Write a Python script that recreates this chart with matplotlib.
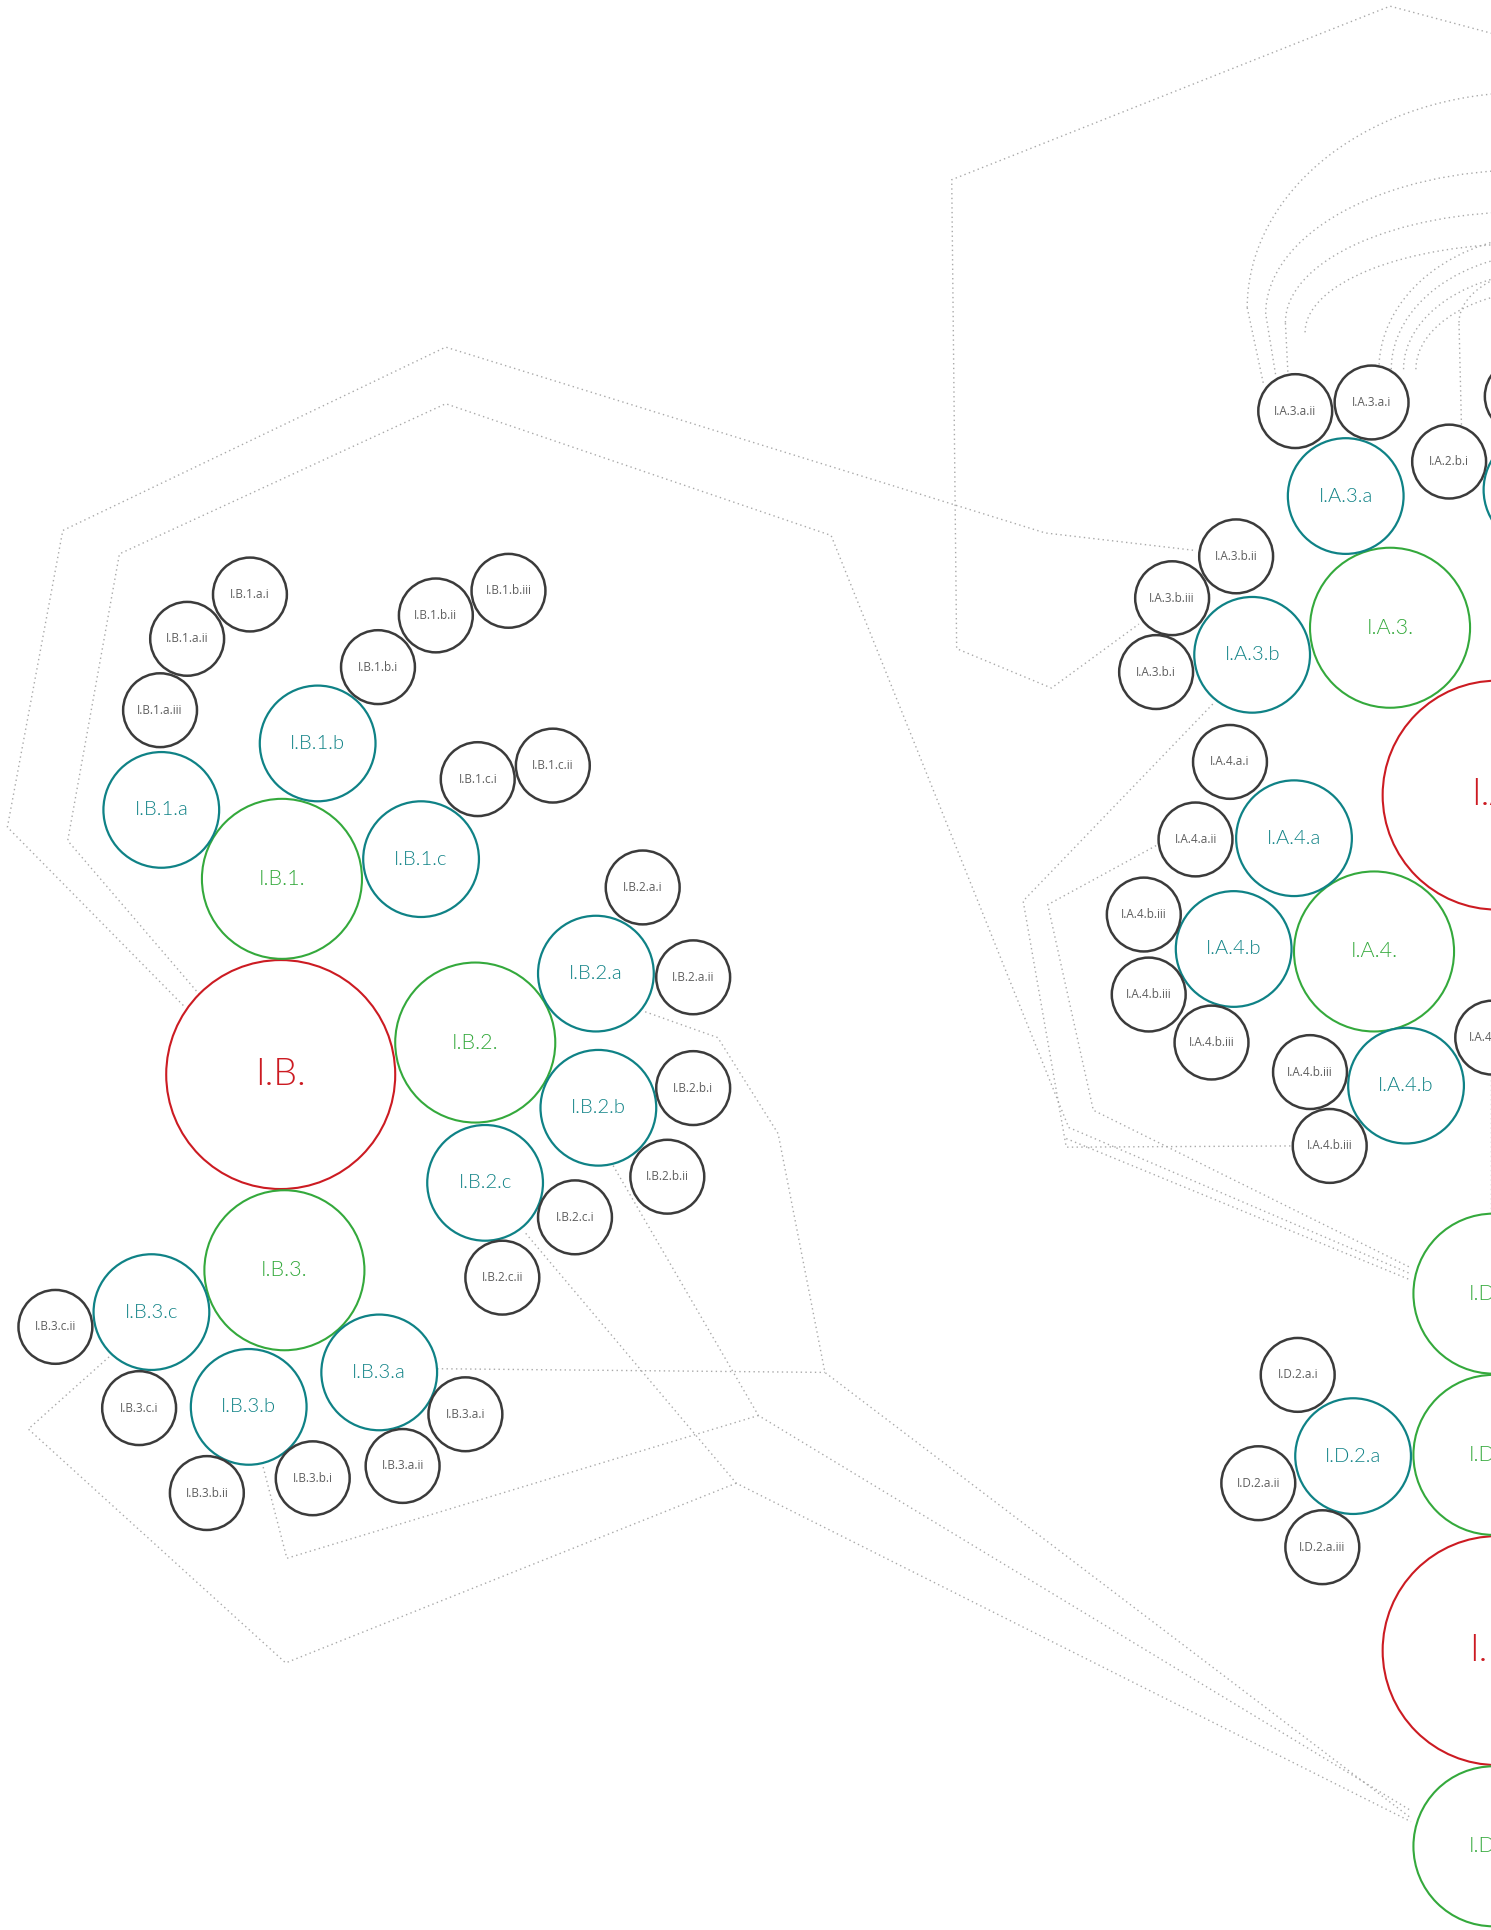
import numpy as np
import matplotlib.pyplot as plt
from matplotlib.patches import Circle, Arc

# ---------------- node data (drawing units: 1211 x 1568 canvas) ----------------
labels = ["I.B.", "I.B.1.", "I.B.1.a", "I.B.1.b", "I.B.1.c",
          "I.B.1.a.i", "I.B.1.a.ii", "I.B.1.a.iii", "I.B.1.b.i", "I.B.1.b.ii", "I.B.1.b.iii",
          "I.B.1.c.i", "I.B.1.c.ii",
          "I.B.2.", "I.B.2.a", "I.B.2.b", "I.B.2.c",
          "I.B.2.a.i", "I.B.2.a.ii", "I.B.2.b.i", "I.B.2.b.ii", "I.B.2.c.i", "I.B.2.c.ii",
          "I.B.3.", "I.B.3.a", "I.B.3.b", "I.B.3.c",
          "I.B.3.a.i", "I.B.3.a.ii", "I.B.3.b.i", "I.B.3.b.ii", "I.B.3.c.i", "I.B.3.c.ii",
          "I.A.", "I.A.3.", "I.A.3.a", "I.A.3.b", "I.A.3.a.i", "I.A.3.a.ii", "I.A.2.b.i",
          "", "",
          "I.A.3.b.i", "I.A.3.b.ii", "I.A.3.b.iii",
          "I.A.4.", "I.A.4.a", "I.A.4.b", "I.A.4.b",
          "I.A.4.a.i", "I.A.4.a.ii", "I.A.4.b.iii", "I.A.4.b.iii", "I.A.4.b.iii",
          "I.A.4.b.iii", "I.A.4.b.iii", "I.A.4.b.iv",
          "I.D.", "I.D.1.", "I.D.2.", "I.D.3.", "I.D.2.a",
          "I.D.2.a.i", "I.D.2.a.ii", "I.D.2.a.iii"]
xs = [228, 229, 131, 258, 342,
      203, 152, 130, 307, 354, 413,
      388, 449,
      386, 484, 486, 394,
      522, 563, 563, 542, 467, 408,
      231, 308, 202, 123,
      378, 327, 254, 168, 113, 45,
      1216, 1129, 1093, 1017, 1114, 1052, 1177,
      1236, 1252,
      939, 1004, 952,
      1116, 1051, 1002, 1142,
      999, 971, 929, 933, 984,
      1064, 1080, 1212,
      1216, 1213, 1213, 1213, 1099,
      1054, 1022, 1074]
ys = [873, 714, 658, 604, 698,
      483, 519, 577, 542, 500, 480,
      633, 622,
      847, 791, 900, 961,
      721, 794, 884, 956, 989, 1038,
      1032, 1115, 1143, 1066,
      1149, 1191, 1201, 1213, 1144, 1078,
      646, 510, 403, 532, 327, 334, 375,
      322, 398,
      546, 452, 486,
      773, 681, 771, 882,
      619, 682, 743, 808, 847,
      871, 931, 843,
      1341, 1051, 1182, 1500, 1183,
      1117, 1205, 1257]
levels = [0, 1, 2, 2, 2,
          3, 3, 3, 3, 3, 3,
          3, 3,
          1, 2, 2, 2,
          3, 3, 3, 3, 3, 3,
          1, 2, 2, 2,
          3, 3, 3, 3, 3, 3,
          0, 1, 2, 2, 3, 3, 3,
          3, 2,
          3, 3, 3,
          1, 2, 2, 2,
          3, 3, 3, 3, 3,
          3, 3, 3,
          0, 1, 1, 1, 2,
          3, 3, 3]

# ---------------- dotted connector paths ----------------
paths = [
    [(1215, 28), (1129, 5), (773, 146), (777, 527), (854, 559), (925, 507)],
    [(969, 447), (849, 433), (362, 282), (51, 431), (6, 672), (150, 818)],
    [(162, 808), (55, 683), (97, 450), (362, 328), (675, 435), (868, 916), (1146, 1035)],
    [(985, 572), (831, 732), (866, 932), (1049, 931)],
    [(866, 925), (1146, 1040)],
    [(939, 687), (851, 735), (888, 902), (1146, 1030)],
    [(1211, 873), (1211, 986)],
    [(524, 822), (583, 843), (632, 921), (670, 1115), (1146, 1477)],
    [(355, 1112), (670, 1115)],
    [(498, 947), (616, 1150), (1146, 1471)],
    [(616, 1150), (233, 1266), (213, 1189)],
    [(427, 1002), (598, 1205), (1146, 1480)],
    [(598, 1205), (232, 1351), (23, 1161), (89, 1102)],
    [(1026, 311), (1013, 250)],
    [(1036, 304), (1028, 255)],
    [(1046, 302), (1044, 262)],
    [(1187, 345), (1185, 262)],
]
# bundled arcs: centre x, centre y, x radius, y radius
arc_cx = [1240, 1240, 1240, 1240, 1260, 1260, 1260, 1260, 1262]
arc_cy = [250, 255, 262, 270, 300, 300, 300, 300, 262]
arc_rx = [227, 212, 196, 180, 140, 130, 120, 110, 77]
arc_ry = [175, 117, 90, 72, 110, 95, 80, 65, 45]

edge = {0: '#cc1b22', 1: '#34a93c', 2: '#0f8286', 3: '#3b3b3b'}
textc = {0: '#cc1b22', 1: '#34a93c', 2: '#0f8286', 3: '#5e5e5e'}
rad = {0: 93, 1: 65, 2: 47, 3: 30}
lw = {0: 1.5, 1: 1.5, 2: 1.6, 3: 1.8}
fsz = {0: 27, 1: 15.5, 2: 14.5, 3: 8.5}

fig = plt.figure(figsize=(14.91, 19.30), dpi=100)
ax = fig.add_axes([0, 0, 1, 1])
ax.set_xlim(0, 1211)
ax.set_ylim(1568, 0)
ax.axis('off')

dots = dict(color='#a9a9a9', lw=1.0, linestyle=(0, (1, 2.4)), zorder=1)
for p in paths:
    px, py = zip(*p)
    ax.plot(px, py, **dots)
for cx, cy, rx, ry in zip(arc_cx, arc_cy, arc_rx, arc_ry):
    ax.add_patch(Arc((cx, cy), 2 * rx, 2 * ry, theta1=180, theta2=270,
                     edgecolor='#a9a9a9', lw=1.0, linestyle=(0, (1, 2.4)), zorder=1))

for lab, x, y, lv in zip(labels, xs, ys, levels):
    ax.add_patch(Circle((x, y), rad[lv], facecolor='white', edgecolor=edge[lv],
                        lw=lw[lv], zorder=2))
    if not lab:
        continue
    fam = ['Open Sans', 'DejaVu Sans'] if lv == 3 else ['Lato', 'DejaVu Sans']
    ax.text(x, y, lab, ha='center', va='center', color=textc[lv], fontsize=fsz[lv],
            family=fam, fontweight=400 if lv == 3 else 300, zorder=3)

fig.savefig('out.png', dpi=100, facecolor='white')
